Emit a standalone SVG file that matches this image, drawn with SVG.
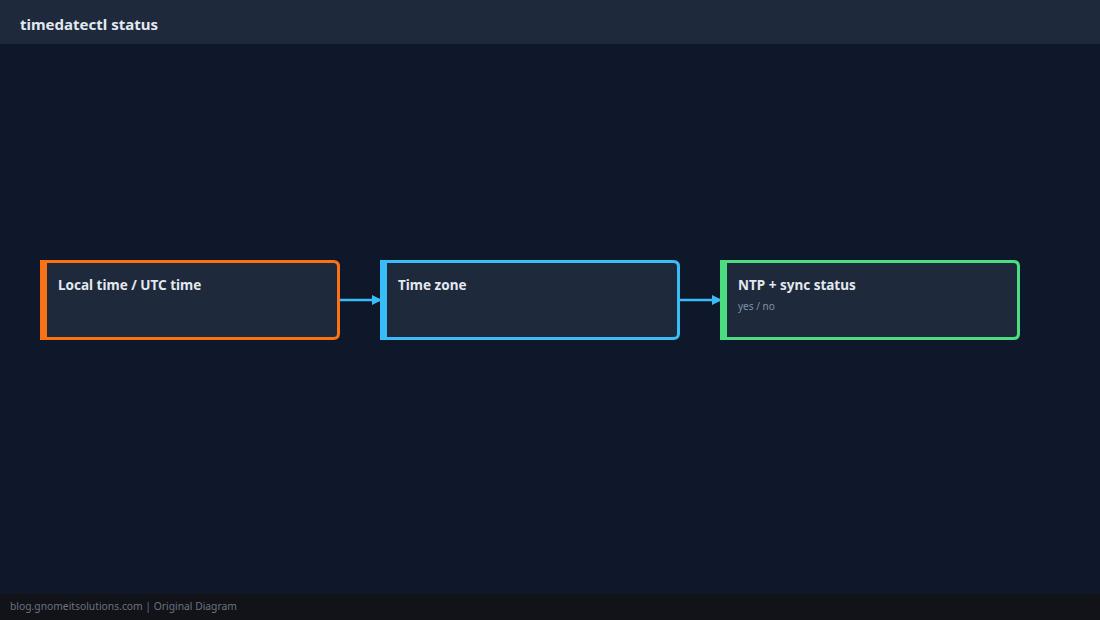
<svg xmlns="http://www.w3.org/2000/svg" width="1100" height="620" viewBox="0 0 1100 620">
<style>
.box{fill:#1e293b;stroke-width:3}
.title{font-family:"Noto Sans","Open Sans",sans-serif;font-weight:bold;font-size:13.5px;fill:#e2e8f0}
.sub{font-family:"Noto Sans","Open Sans",sans-serif;font-size:10px;fill:#8391a7}
.conn{stroke:#38bdf8;stroke-width:2.5;fill:none}
</style>
<defs>
<marker id="ah" markerWidth="10" markerHeight="10" refX="9" refY="5" orient="auto" markerUnits="userSpaceOnUse">
<path d="M0,0 L10,5 L0,10 Z" fill="#38bdf8"/>
</marker>
</defs>
<rect x="0" y="0" width="1100" height="620" fill="#0f172a"/>
<rect x="0" y="0" width="1100" height="44" fill="#1e293b"/>
<text x="20" y="30" font-family="Noto Sans, Open Sans, sans-serif" font-weight="bold" font-size="15" fill="#e2e8f0">timedatectl status</text>
<rect x="0" y="594" width="1100" height="26" fill="#111318"/>
<text x="10" y="610" font-family="Noto Sans, Open Sans, sans-serif" font-size="10.3" fill="#6b7280">blog.gnomeitsolutions.com | Original Diagram</text>
<g id="connectors">
<line class="conn" x1="340" y1="300" x2="381" y2="300" marker-end="url(#ah)"/>
<line class="conn" x1="680" y1="300" x2="721" y2="300" marker-end="url(#ah)"/>
</g>
<g id="node-local">
<path class="box" stroke="#f97316" d="M41.5,261.5 H333.5 Q338.5,261.5 338.5,266.5 V333.5 Q338.5,338.5 333.5,338.5 H41.5 Z"/>
<rect x="40" y="260" width="7" height="80" fill="#f97316"/>
<text class="title" x="58" y="290">Local time / UTC time</text>
</g>
<g id="node-tz">
<path class="box" stroke="#38bdf8" d="M381.5,261.5 H673.5 Q678.5,261.5 678.5,266.5 V333.5 Q678.5,338.5 673.5,338.5 H381.5 Z"/>
<rect x="380" y="260" width="7" height="80" fill="#38bdf8"/>
<text class="title" x="398" y="290">Time zone</text>
</g>
<g id="node-ntp">
<path class="box" stroke="#4ade80" d="M721.5,261.5 H1013.5 Q1018.5,261.5 1018.5,266.5 V333.5 Q1018.5,338.5 1013.5,338.5 H721.5 Z"/>
<rect x="720" y="260" width="7" height="80" fill="#4ade80"/>
<text class="title" x="738" y="290">NTP + sync status</text>
<text class="sub" x="738" y="310">yes / no</text>
</g>
</svg>
